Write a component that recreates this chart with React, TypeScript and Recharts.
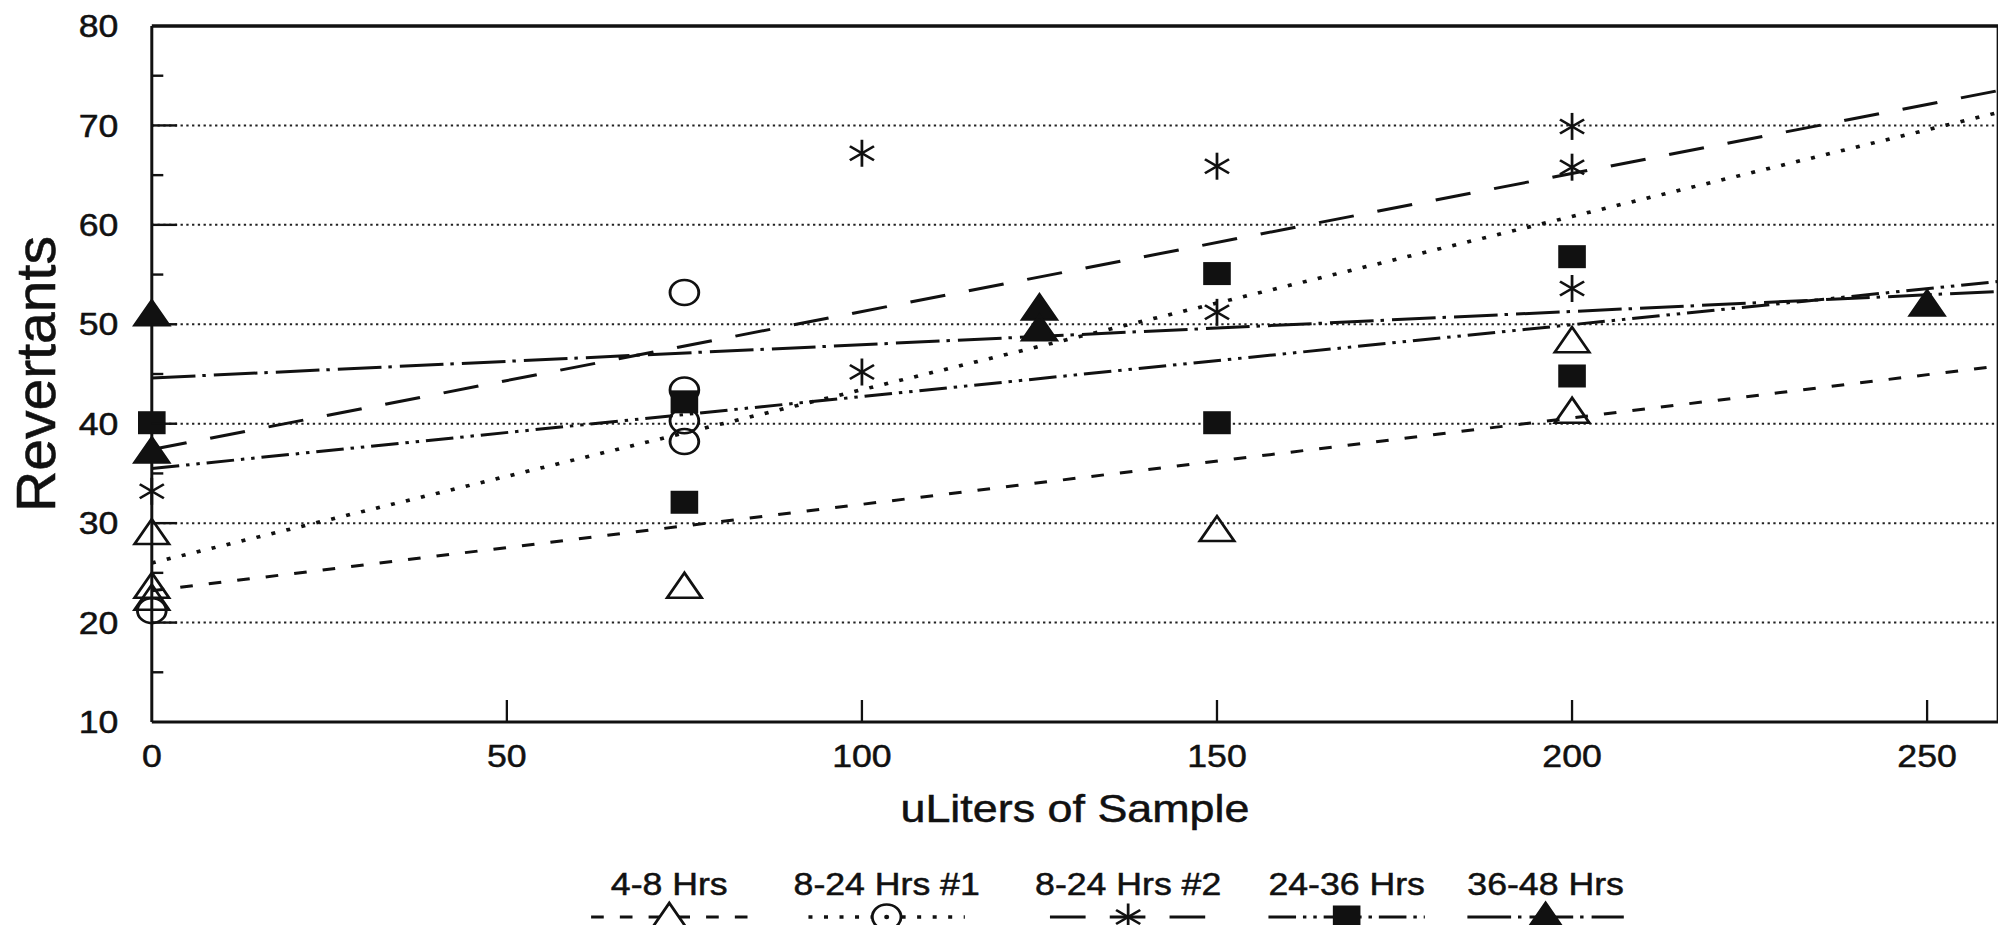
import React from "react";
import {
  ComposedChart, Scatter, Line, XAxis, YAxis, ReferenceLine, Legend, Label,
} from "recharts";

const FONT = '"Liberation Sans", Arial, Helvetica, sans-serif';
const INK = "#111";

// the printed figure is wider than it is tall, so the whole svg is stretched along x
const SX = 1.15;
const W = 1738;
const H = 925;

const xTicks = [0, 50, 100, 150, 200, 250];
const yTicks = [10, 15, 20, 25, 30, 35, 40, 45, 50, 55, 60, 65, 70, 75, 80];
const gridValues = [20, 30, 40, 50, 60, 70];

// plate counts: x = uL of sample, y = revertants
const hrs4to8 = [
  { x: 0, y: 29 }, { x: 0, y: 23.6 }, { x: 0, y: 22.4 }, { x: 75, y: 23.6 },
  { x: 150, y: 29.3 }, { x: 200, y: 48.3 }, { x: 200, y: 41.2 },
];
const hrs8to24a = [
  { x: 0, y: 21.2 }, { x: 75, y: 53.2 }, { x: 75, y: 43.4 }, { x: 75, y: 40.3 }, { x: 75, y: 38.2 },
];
const hrs8to24b = [
  { x: 0, y: 33.2 }, { x: 100, y: 67.2 }, { x: 100, y: 45.2 }, { x: 150, y: 65.9 },
  { x: 150, y: 51.2 }, { x: 200, y: 69.9 }, { x: 200, y: 65.8 }, { x: 200, y: 53.6 },
];
const hrs24to36 = [
  { x: 0, y: 40.1 }, { x: 75, y: 42.2 }, { x: 75, y: 32.1 }, { x: 150, y: 55.1 },
  { x: 150, y: 40.1 }, { x: 200, y: 56.8 }, { x: 200, y: 44.8 },
];
const hrs36to48 = [
  { x: 0, y: 51 }, { x: 0, y: 37.2 }, { x: 125, y: 51.6 }, { x: 125, y: 49.5 }, { x: 250, y: 52 },
];

// straight-line fits, read at both ends of the x range
const fit4to8 = [{ x: 0, y: 23.2 }, { x: 260, y: 45.8 }];
const fit8to24a = [{ x: 0, y: 26 }, { x: 260, y: 71.3 }];
const fit8to24b = [{ x: 0, y: 37.4 }, { x: 260, y: 73.5 }];
const fit24to36 = [{ x: 0, y: 35.5 }, { x: 260, y: 54.3 }];
const fit36to48 = [{ x: 0, y: 44.6 }, { x: 260, y: 53.3 }];

type Kind = "triOpen" | "circle" | "star" | "square" | "triFill";

const series: { name: string; points: any[]; fit: any[]; kind: Kind; dash: string; width: number }[] = [
  { name: "4-8 Hrs", points: hrs4to8, fit: fit4to8, kind: "triOpen", dash: "11 14", width: 3 },
  { name: "8-24 Hrs #1", points: hrs8to24a, fit: fit8to24a, kind: "circle", dash: "3.5 10", width: 3.6 },
  { name: "8-24 Hrs #2", points: hrs8to24b, fit: fit8to24b, kind: "star", dash: "31 21", width: 3 },
  { name: "24-36 Hrs", points: hrs24to36, fit: fit24to36, kind: "square", dash: "24 6 3 6 3 6", width: 3 },
  { name: "36-48 Hrs", points: hrs36to48, fit: fit36to48, kind: "triFill", dash: "38 6 3 7", width: 3 },
];

const legendCenters = [582, 771, 981, 1171, 1344];

// scanned type is a little heavier than the plain face
const textInk = { fill: INK, stroke: INK, strokeWidth: 0.5, fontFamily: FONT };

function Marker({ kind, cx, cy, legend }: { kind: Kind; cx: number; cy: number; legend?: boolean }) {
  const bg = legend ? "#fff" : "none";
  switch (kind) {
    case "triOpen":
    case "triFill":
      return (
        <polygon
          points={`${cx},${cy - 14} ${cx - 15},${cy + 11} ${cx + 15},${cy + 11}`}
          fill={kind === "triFill" ? INK : bg}
          stroke={INK}
          strokeWidth={2.5}
        />
      );
    case "circle":
      return (
        <g>
          <circle cx={cx} cy={cy} r={12.5} fill={bg} stroke={INK} strokeWidth={2.5} />
          {legend && <circle cx={cx} cy={cy} r={2.2} fill={INK} />}
        </g>
      );
    case "square":
      return <rect x={cx - 12} y={cy - 11.5} width={24} height={23} fill={INK} />;
    case "star":
      return (
        <g stroke={INK} strokeWidth={2.4}>
          <line x1={cx} y1={cy - 13.5} x2={cx} y2={cy + 13.5} />
          <line x1={cx - 10.5} y1={cy - 7} x2={cx + 10.5} y2={cy + 7} />
          <line x1={cx - 10.5} y1={cy + 7} x2={cx + 10.5} y2={cy - 7} />
        </g>
      );
  }
  return null;
}

const Y_GAP = 29;

const YTick = (p: any) => {
  const v = p.payload.value;
  const ax = p.x + Y_GAP;
  const major = v % 10 === 0;
  return (
    <g>
      {v > 10 && v < 80 && (
        <line x1={ax} x2={ax + (major ? 22 : 10)} y1={p.y} y2={p.y} stroke={INK} strokeWidth={2.4} />
      )}
      {major && (
        <text x={p.x} y={p.y} dy="0.36em" textAnchor="end" fontSize={31} {...textInk}>
          {v}
        </text>
      )}
    </g>
  );
};

const XTick = (p: any) => {
  const v = p.payload.value;
  return (
    <g>
      {v > 0 && <line x1={p.x} x2={p.x} y1={p.y} y2={p.y - 22} stroke={INK} strokeWidth={2} />}
      <text x={p.x} y={p.y + 45} textAnchor="middle" fontSize={31} {...textInk}>
        {v}
      </text>
    </g>
  );
};

const XTitle = (p: any) => {
  const vb = p.viewBox;
  return (
    <text x={vb.x + vb.width / 2} y={vb.y + 100} textAnchor="middle" fontSize={39} {...textInk}>
      uLiters of Sample
    </text>
  );
};

const YTitle = (p: any) => {
  const vb = p.viewBox;
  const cx = vb.x + 31;
  const cy = vb.y + vb.height / 2;
  return (
    <text
      x={cx}
      y={cy}
      transform={`rotate(-90 ${cx} ${cy})`}
      textAnchor="middle"
      dominantBaseline="central"
      fontSize={48}
      textLength={276}
      lengthAdjust="spacingAndGlyphs"
      {...textInk}
    >
      Revertants
    </text>
  );
};

const LegendBox = () => (
  <svg width={W} height={72} style={{ display: "block", overflow: "visible" }}>
    {series.map((s, i) => {
      const cx = legendCenters[i];
      return (
        <g key={s.name}>
          <text x={cx} y={40} textAnchor="middle" fontSize={31} {...textInk}>
            {s.name}
          </text>
          <line
            x1={cx - 68}
            x2={cx + 68}
            y1={62}
            y2={62}
            stroke={INK}
            strokeWidth={s.width}
            strokeDasharray={s.dash}
          />
          <Marker kind={s.kind} cx={cx} cy={62} legend />
        </g>
      );
    })}
  </svg>
);

export default function App() {
  return (
    <div style={{ position: "absolute", left: 0, top: 0, width: 1998, height: H, overflow: "hidden", background: "#fff" }}>
      <div style={{ width: W, height: H, transform: `scaleX(${SX})`, transformOrigin: "0 0" }}>
        <ComposedChart width={W} height={H} margin={{ top: 26, right: 0.5, bottom: 0, left: 0 }}>
          <XAxis
            type="number"
            dataKey="x"
            domain={[0, 260]}
            ticks={xTicks}
            interval={0}
            height={203}
            tickSize={0}
            tickMargin={0}
            tickLine={false}
            tick={<XTick />}
            axisLine={{ stroke: INK, strokeWidth: 3 }}
          >
            <Label content={<XTitle />} />
          </XAxis>
          <YAxis
            type="number"
            dataKey="y"
            domain={[10, 80]}
            ticks={yTicks}
            interval={0}
            width={132}
            tickSize={0}
            tickMargin={Y_GAP}
            tickLine={false}
            tick={<YTick />}
            axisLine={{ stroke: INK, strokeWidth: 2.6 }}
          >
            <Label content={<YTitle />} />
          </YAxis>

          {gridValues.map((v) => (
            <ReferenceLine key={v} y={v} stroke="#222" strokeWidth={2} strokeDasharray="2 3" />
          ))}
          <ReferenceLine y={80} stroke={INK} strokeWidth={3.5} />
          <ReferenceLine x={260} stroke={INK} strokeWidth={2.6} />

          {series.map((s) => (
            <Line
              key={`fit-${s.name}`}
              data={s.fit}
              dataKey="y"
              type="linear"
              stroke={INK}
              strokeWidth={s.width}
              strokeDasharray={s.dash}
              dot={false}
              activeDot={false}
              legendType="none"
              isAnimationActive={false}
            />
          ))}
          {series.map((s) => (
            <Scatter
              key={`pts-${s.name}`}
              name={s.name}
              data={s.points}
              dataKey="y"
              shape={(p: any) => <Marker kind={s.kind} cx={p.cx} cy={p.cy} />}
              isAnimationActive={false}
            />
          ))}

          <Legend
            layout="horizontal"
            verticalAlign="middle"
            align="center"
            wrapperStyle={{ left: 0, top: 855, width: W, height: 72 }}
            content={() => <LegendBox />}
          />
        </ComposedChart>
      </div>
    </div>
  );
}
